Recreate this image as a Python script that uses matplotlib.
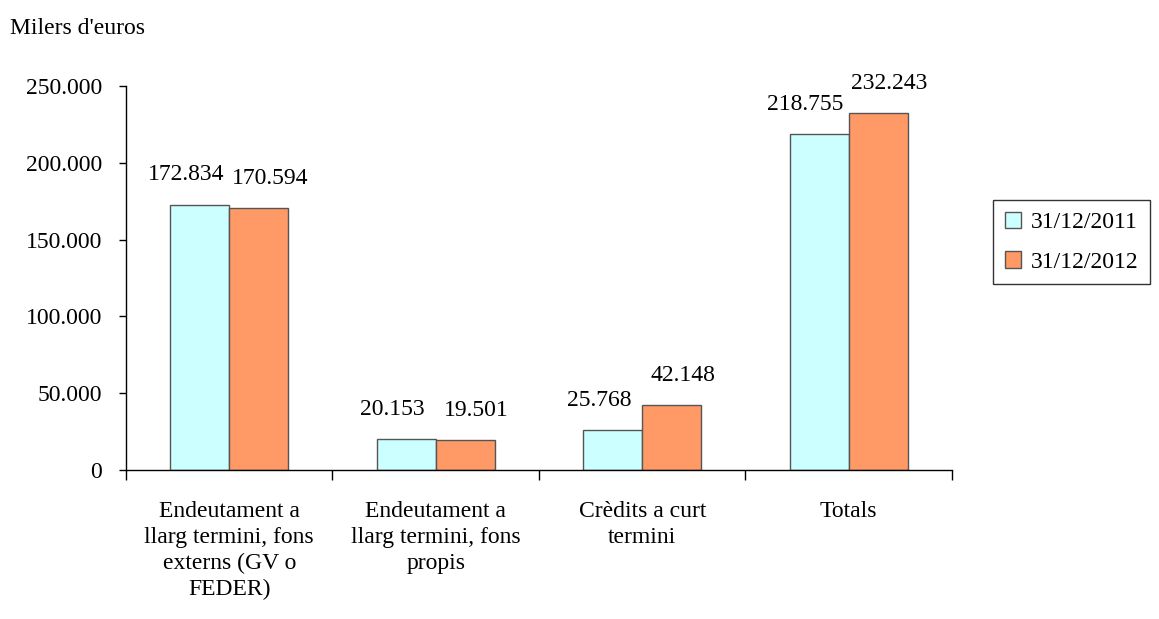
import matplotlib.pyplot as plt
from matplotlib.ticker import FuncFormatter
import numpy as np

categories = ["Endeutament a\nllarg termini, fons\nexterns (GV o\nFEDER)",
              "Endeutament a\nllarg termini, fons\npropis",
              "Crèdits a curt\ntermini",
              "Totals"]
vals_2011 = [172834, 20153, 25768, 218755]
vals_2012 = [170594, 19501, 42148, 232243]
series_names = ["31/12/2011", "31/12/2012"]

plt.rcParams['font.family'] = ['Liberation Serif', 'DejaVu Serif']
fs = 17

fig = plt.figure(figsize=(11.59, 6.19), dpi=100)
ax = fig.add_axes([0.1087, 0.2407, 0.7127, 0.6203])

x = np.arange(len(categories))
w = 0.286
b1 = ax.bar(x - w / 2, vals_2011, w, color='#CCFFFF', edgecolor='#555555',
            linewidth=1, label=series_names[0])
b2 = ax.bar(x + w / 2, vals_2012, w, color='#FF9966', edgecolor='#555555',
            linewidth=1, label=series_names[1])

def fmt(v):
    return f"{v:,.0f}".replace(",", ".")

# value labels, pushed slightly apart like the Excel original
for bars, dx in ((b1, -10), (b2, 8)):
    for r in bars:
        v = r.get_height()
        ax.annotate(fmt(v), (r.get_x() + r.get_width() / 2, v),
                    xytext=(dx, 14), textcoords='offset points',
                    ha='center', va='bottom', fontsize=fs)

ax.set_xlim(-0.5, len(categories) - 0.5)
ax.set_ylim(0, 250000)
ax.set_yticks(range(0, 250001, 50000))
ax.yaxis.set_major_formatter(FuncFormatter(lambda v, p: fmt(v)))
ax.tick_params(axis='y', labelsize=fs, direction='out', length=5, width=1, pad=12)

ax.set_xticks(np.arange(len(categories) + 1) - 0.5)
ax.set_xticklabels([])
ax.tick_params(axis='x', which='major', direction='out', length=7, width=1)
ax.set_xticks(x, minor=True)
ax.set_xticklabels(categories, minor=True, fontsize=fs, linespacing=1.32)
ax.tick_params(axis='x', which='minor', length=0, pad=22)

for s in ('top', 'right'):
    ax.spines[s].set_visible(False)
for s in ('left', 'bottom'):
    ax.spines[s].set_linewidth(1)
    ax.spines[s].set_color('black')

fig.text(10 / 1159, 1 - 28 / 619, "Milers d'euros", fontsize=fs, va='center', ha='left')

leg = fig.legend(loc='upper left', bbox_to_anchor=(993 / 1159, 1 - 200 / 619),
                 borderaxespad=0,
                 fontsize=fs, frameon=True, fancybox=False, edgecolor='black',
                 handlelength=0.7, handleheight=0.7, handletextpad=0.4,
                 labelspacing=0.75, borderpad=0.5)
leg.get_frame().set_linewidth(1)

fig.savefig('out.png', dpi=100)
